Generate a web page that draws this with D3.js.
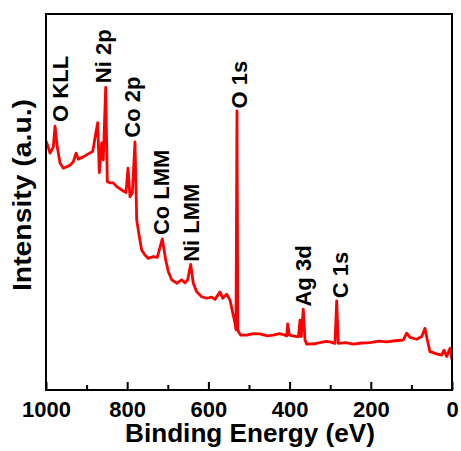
<!DOCTYPE html>
<html>
<head>
<meta charset="utf-8">
<script src="https://cdn.jsdelivr.net/npm/d3@7"></script>
<style>
    body { margin: 0; background: #fff; }
    text { font-family: Arial, "Liberation Sans", sans-serif; font-weight: bold; fill: #000; }
</style>
</head>
<body>
<script>
// XPS survey spectrum
const energy = [1000, 995.0, 990.1, 982.0, 977.8, 972.2, 965.5, 957.4, 949.0, 940.9, 932.8, 926.1, 920.4,
    908.1, 895.8, 885.0, 879.3, 872.7, 868.7, 862.8, 858.9, 853.0, 849.0, 842.4, 834.2, 825.9,
    813.5, 803.0, 798.0, 793.1, 787.4, 780.8, 776.6, 770.2, 764.3, 756.2, 748.0, 735.7, 725.9,
    713.5, 705.2, 698.8, 690.4, 678.1, 665.8, 657.6, 651.0, 643.6, 637.2, 628.8, 616.5, 604.2,
    591.9, 583.7, 571.4, 564.8, 554.9, 546.8, 538.7, 534.5, 532.0, 529.6, 527.5, 525.9, 520.4,
    505.7, 490.0, 472.9, 455.0, 440.1, 425.0, 411.3, 407.1, 404.7, 400.7, 382.5, 378.1, 374.4,
    371.2, 366.3, 362.1, 357.9, 340.0, 325.1, 310.0, 300.5, 288.2, 284.0, 280.0, 262.0, 243.1,
    222.0, 202.0, 180.0, 160.8, 140.0, 119.9, 111.6, 103.4, 87.0, 74.6, 66.5, 60.8, 54.2, 37.7,
    25.4, 19.7, 13.1, 4.9, 0]
const intensity = [66.2, 64.8, 63.0, 64.6, 70.2, 64.6, 60.4, 59.0, 59.4, 59.8, 60.7, 63.0, 61.4,
    62.0, 62.8, 63.4, 67.0, 71.1, 57.8, 65.7, 61.2, 80.5, 55.4, 55.1, 55.1, 54.1,
    53.2, 52.5, 59.0, 51.4, 52.4, 66.0, 45.2, 40.8, 37.2, 35.9, 35.0, 35.5, 35.3,
    40.2, 34.6, 31.5, 29.3, 28.4, 29.3, 28.5, 29.3, 33.4, 28.4, 26.1, 24.8, 24.4,
    24.7, 24.1, 26.1, 24.4, 25.5, 23.9, 19.9, 17.8, 16.0, 74.2, 16.5, 15.5, 14.6,
    14.6, 15.0, 14.9, 14.4, 14.6, 15.0, 14.6, 14.4, 17.6, 14.6, 14.2, 14.2, 18.6,
    14.2, 21.5, 13.3, 12.2, 12.3, 12.6, 12.9, 12.8, 12.4, 23.7, 12.4, 12.6, 12.2,
    12.5, 12.6, 13.0, 12.8, 13.1, 13.3, 15.1, 14.0, 13.5, 14.2, 16.4, 13.3, 10.2, 9.6,
    9.3, 10.6, 8.9, 11.1, 8.0]

const peakNames = ["O KLL", "Ni 2p", "Co 2p", "Co LMM", "Ni LMM", "O 1s", "Ag 3d", "C 1s"]
const peakEnergy = [965.5, 858.4, 788.2, 715.0, 641.1, 523.4, 365.8, 274.6]
const peakLabelLevel = [71.3, 81.6, 67.1, 41.2, 34.1, 74.9, 22.2, 24.4]

const majorTicks = [1000, 800, 600, 400, 200, 0]
const minorTicks = [900, 700, 500, 300, 100]

const svgWidth = 461;
const svgHeight = 451;
const margin = {top: 14, right: 9, bottom: 61, left: 46}
const chartWidth = svgWidth - margin.left - margin.right;
const chartHeight = svgHeight - margin.top - margin.bottom;

window.onload = main;

function main() {
    const data = energy.map((e, i) => ({e: e, v: intensity[i]}))

    const svg = d3.select("body").append("svg")
        .attr("width", svgWidth)
        .attr("height", svgHeight)

    const g = svg.append("g")
        .attr("transform", `translate(${margin.left}, ${margin.top})`)

    const scaleX = d3.scaleLinear().domain([1000, 0]).range([0, chartWidth])
    const scaleY = d3.scaleLinear().domain([0, 100]).range([chartHeight, 0])

    // spectrum
    const line = d3.line().x(d => scaleX(d.e)).y(d => scaleY(d.v))
    g.append("path")
        .datum(data)
        .attr("d", line)
        .attr("fill", "none")
        .attr("stroke", "#ff0000")
        .attr("stroke-width", 2.8)
        .attr("stroke-linejoin", "round")

    // bottom axis, ticks pointing in
    g.append("g")
        .attr("transform", `translate(0, ${chartHeight})`)
        .call(d3.axisBottom(scaleX).tickValues(majorTicks).tickSize(-8).tickPadding(11).tickFormat(d3.format("d")))
        .call(ax => ax.select(".domain").remove())
        .call(ax => ax.selectAll("line").attr("stroke", "#000").attr("stroke-width", 2))
        .call(ax => ax.selectAll("text").attr("font-size", 22).attr("fill", "#000")
            .style("font-family", "Arial, 'Liberation Sans', sans-serif"))

    g.append("g")
        .attr("transform", `translate(0, ${chartHeight})`)
        .call(d3.axisBottom(scaleX).tickValues(minorTicks).tickSize(-5).tickFormat(""))
        .call(ax => ax.select(".domain").remove())
        .call(ax => ax.selectAll("line").attr("stroke", "#000").attr("stroke-width", 2))

    // frame
    g.append("rect")
        .attr("x", 0).attr("y", 0)
        .attr("width", chartWidth).attr("height", chartHeight)
        .attr("fill", "none")
        .attr("stroke", "#000")
        .attr("stroke-width", 2)

    // peak labels
    g.selectAll(".peak")
        .data(peakNames)
        .join("text")
        .attr("class", "peak")
        .attr("transform", (d, i) => `translate(${scaleX(peakEnergy[i])}, ${scaleY(peakLabelLevel[i])}) rotate(-90)`)
        .attr("dy", "0.35em")
        .attr("font-size", 22)
        .attr("text-anchor", "start")
        .text(d => d)

    // axis titles
    svg.append("text")
        .attr("x", 250)
        .attr("y", 442)
        .attr("font-size", 25)
        .attr("text-anchor", "middle")
        .attr("textLength", 250)
        .attr("lengthAdjust", "spacingAndGlyphs")
        .text("Binding Energy (eV)")

    svg.append("text")
        .attr("transform", "translate(31, 195) rotate(-90)")
        .attr("font-size", 26)
        .attr("text-anchor", "middle")
        .attr("textLength", 192)
        .attr("lengthAdjust", "spacingAndGlyphs")
        .text("Intensity (a.u.)")
}
</script>
</body>
</html>
